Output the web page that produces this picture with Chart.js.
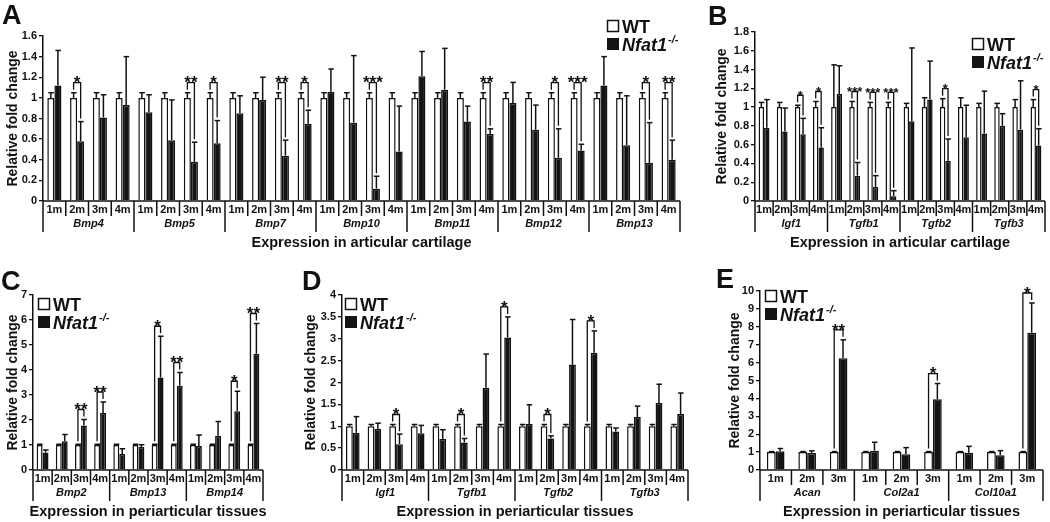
<!DOCTYPE html>
<html>
<head>
<meta charset="utf-8">
<script src="https://cdn.jsdelivr.net/npm/chart.js@4"></script>
<style>
  body { margin: 0; background: #fff; }
  #fig { position: relative; width: 1050px; height: 522px; overflow: hidden; }
  canvas { position: absolute; }
</style>
</head>
<body>
<div id="fig"></div>
<script>
const FONT = '"Liberation Sans", Arial, sans-serif';
const INK = '#111';

// ---- data ----
const months4 = ['1m', '2m', '3m', '4m'];
const months3 = ['1m', '2m', '3m'];

// A: articular cartilage, Bmp genes
const genesA = ['Bmp4', 'Bmp5', 'Bmp7', 'Bmp10', 'Bmp11', 'Bmp12', 'Bmp13'];
const ticksA = [0, 0.2, 0.4, 0.6, 0.8, 1, 1.2, 1.4, 1.6];
const wtA = [1, 1, 1, 1, 1, 1, 1, 1, 1, 1, 1, 1, 1, 1, 1, 1, 1, 1, 1, 1, 1, 1, 1, 1, 1, 1, 1, 1];
const wtSdA = [0.05, 0.05, 0.05, 0.05, 0.05, 0.05, 0.05, 0.05, 0.05, 0.05, 0.05, 0.05, 0.05, 0.05,
               0.05, 0.05, 0.05, 0.05, 0.05, 0.05, 0.05, 0.05, 0.05, 0.05, 0.05, 0.05, 0.05, 0.05];
const koA = [1.12, 0.58, 0.81, 0.93,  0.86, 0.59, 0.38, 0.56,  0.85, 0.98, 0.44, 0.75,
             1.06, 0.76, 0.12, 0.48,  1.21, 1.08, 0.77, 0.65,  0.95, 0.69, 0.42, 0.49,
             1.12, 0.54, 0.37, 0.40];
const koSdA = [0.34, 0.19, 0.22, 0.47,  0.17, 0.39, 0.19, 0.22,  0.17, 0.22, 0.15, 0.13,
               0.22, 0.65, 0.12, 0.44,  0.24, 0.40, 0.15, 0.05,  0.20, 0.24, 0.28, 0.06,
               0.28, 0.48, 0.39, 0.19];
const sigA = ['', '*', '', '',  '', '', '**', '*',  '', '', '**', '*',  '', '', '***', '',
              '', '', '', '**',  '', '', '*', '***',  '', '', '*', '**'];

// B: articular cartilage, Igf1/Tgfb
const genesB = ['Igf1', 'Tgfb1', 'Tgfb2', 'Tgfb3'];
const ticksB = [0, 0.2, 0.4, 0.6, 0.8, 1, 1.2, 1.4, 1.6, 1.8];
const wtB = [1, 1, 1, 1, 1, 1, 1, 1, 1, 1, 1, 1, 1, 1, 1, 1];
const wtSdB = [0.05, 0.05, 0.02, 0.06,  0.45, 0.06, 0.05, 0.05,  0.04, 0.10, 0.09, 0.10,  0.04, 0.04, 0.08, 0.08];
const koB = [0.78, 0.74, 0.71, 0.57,  1.14, 0.27, 0.15, 0.05,  0.85, 1.08, 0.43, 0.68,  0.72, 0.80, 0.76, 0.59];
const koSdB = [0.30, 0.25, 0.17, 0.21,  0.30, 0.14, 0.12, 0.06,  0.78, 0.41, 0.23, 0.34,  0.45, 0.13, 0.52, 0.18];
const sigB = ['', '', '*', '*',  '', '***', '***', '***',  '', '', '*', '',  '', '', '', '*'];

// C: periarticular tissues, Bmp genes
const genesC = ['Bmp2', 'Bmp13', 'Bmp14'];
const ticksC = [0, 1, 2, 3, 4, 5, 6, 7];
const wtC = [1, 1, 1, 1, 1, 1, 1, 1, 1, 1, 1, 1];
const wtSdC = [0.03, 0.03, 0.03, 0.03, 0.03, 0.03, 0.03, 0.03, 0.03, 0.03, 0.03, 0.03];
const koC = [0.70, 1.15, 1.78, 2.28,  0.64, 0.92, 3.70, 3.37,  0.96, 1.37, 2.35, 4.65];
const koSdC = [0.10, 0.27, 0.24, 0.44,  0.21, 0.09, 1.65, 0.53,  0.44, 0.57, 0.80, 1.21];
const sigC = ['', '', '**', '**',  '', '', '*', '**',  '', '', '*', '**'];

// D: periarticular tissues, Igf1/Tgfb
const genesD = ['Igf1', 'Tgfb1', 'Tgfb2', 'Tgfb3'];
const ticksD = [0, 0.5, 1, 1.5, 2, 2.5, 3, 3.5, 4];
const wtD = [1, 1, 1, 1, 1, 1, 1, 1, 1, 1, 1, 1, 1, 1, 1, 1];
const wtSdD = [0.04, 0.04, 0.04, 0.04, 0.04, 0.04, 0.04, 0.04, 0.04, 0.04, 0.04, 0.04, 0.04, 0.04, 0.04, 0.04];
const koD = [0.85, 0.94, 0.59, 0.84,  0.71, 0.63, 1.88, 3.03,  1.05, 0.72, 2.41, 2.68,  0.88, 1.21, 1.53, 1.28];
const koSdD = [0.37, 0.13, 0.23, 0.18,  0.21, 0.09, 0.77, 0.47,  0.44, 0.06, 1.03, 0.50,  0.08, 0.25, 0.43, 0.48];
const sigD = ['', '', '*', '',  '', '*', '', '*',  '', '*', '', '*',  '', '', '', ''];

// E: periarticular tissues, matrix genes
const genesE = ['Acan', 'Col2a1', 'Col10a1'];
const ticksE = [0, 1, 2, 3, 4, 5, 6, 7, 8, 9, 10];
const wtE = [1, 1, 1, 1, 1, 1, 1, 1, 1];
const wtSdE = [0.03, 0.03, 0.03, 0.03, 0.03, 0.03, 0.03, 0.03, 0.03];
const koE = [1.05, 0.95, 6.25,  1.08, 0.88, 3.95,  0.97, 0.82, 7.67];
const koSdE = [0.15, 0.12, 1.02,  0.47, 0.37, 0.88,  0.35, 0.26, 1.66];
const sigE = ['', '', '**',  '', '', '*',  '', '', '*'];

// ---- layout (page px) ----
const panels = [
  { id: 'A', genes: genesA, months: months4, ticks: ticksA, wt: wtA, wtSd: wtSdA, ko: koA, koSd: koSdA, sig: sigA,
    title: 'Expression in articular cartilage', starSize: 17,
    box: [0, 0, 700, 261], area: [43, 36, 680, 201], catPct: 0.62, letter: [2, 24], yTitleX: 13, legend: [607, 20] },
  { id: 'B', genes: genesB, months: months4, ticks: ticksB, wt: wtB, wtSd: wtSdB, ko: koB, koSd: koSdB, sig: sigB,
    title: 'Expression in articular cartilage', starSize: 13,
    box: [700, 0, 350, 261], area: [755, 32, 1045, 201], catPct: 0.6, letter: [708, 25], yTitleX: 722, legend: [972, 38] },
  { id: 'C', genes: genesC, months: months4, ticks: ticksC, wt: wtC, wtSd: wtSdC, ko: koC, koSd: koSdC, sig: sigC,
    title: 'Expression in periarticular tissues', starSize: 17,
    box: [0, 261, 300, 261], area: [33, 295, 263, 470], catPct: 0.62, letter: [1, 290], yTitleX: 13, legend: [38, 298] },
  { id: 'D', genes: genesD, months: months4, ticks: ticksD, wt: wtD, wtSd: wtSdD, ko: koD, koSd: koSdD, sig: sigD,
    title: 'Expression in periarticular tissues', starSize: 17,
    box: [300, 261, 400, 261], area: [342, 295, 688, 470], catPct: 0.63, letter: [302, 290], yTitleX: 311, legend: [345, 298] },
  { id: 'E', genes: genesE, months: months3, ticks: ticksE, wt: wtE, wtSd: wtSdE, ko: koE, koSd: koSdE, sig: sigE,
    title: 'Expression in periarticular tissues', starSize: 17,
    box: [700, 261, 350, 261], area: [760, 291, 1043, 470], catPct: 0.56, letter: [716, 288], yTitleX: 735, legend: [765, 290] }
];

function seg(ctx, x1, y1, x2, y2) {
  ctx.beginPath();
  ctx.moveTo(x1, y1);
  ctx.lineTo(x2, y2);
  ctx.stroke();
}

function extras(p) {
  return {
    id: 'extras' + p.id,
    afterDraw(chart) {
      const ctx = chart.ctx, a = chart.chartArea;
      const xs = chart.scales.x, ys = chart.scales.y;
      const ox = p.box[0], oy = p.box[1];
      const n = p.wt.length, per = p.months.length;
      const y0 = a.bottom;
      ctx.save();
      ctx.strokeStyle = INK;
      ctx.fillStyle = INK;
      ctx.lineWidth = 1.5;

      // error bars (upper only)
      const tops = [[], []];
      [[p.wt, p.wtSd], [p.ko, p.koSd]].forEach(([vals, sds], d) => {
        chart.getDatasetMeta(d).data.forEach((bar, i) => {
          const top = ys.getPixelForValue(vals[i] + sds[i]);
          tops[d][i] = top;
          seg(ctx, bar.x, bar.y, bar.x, top);
          seg(ctx, bar.x - 2.5, top, bar.x + 3, top);
        });
      });

      // significance brackets
      const wtBars = chart.getDatasetMeta(0).data, koBars = chart.getDatasetMeta(1).data;
      ctx.lineWidth = 1.3;
      ctx.font = 'bold ' + p.starSize + 'px ' + FONT;
      ctx.textAlign = 'center';
      ctx.textBaseline = 'alphabetic';
      p.sig.forEach((s, i) => {
        if (!s) return;
        const xw = wtBars[i].x, xk = koBars[i].x;
        const lvl = Math.min(tops[0][i], tops[1][i]) - 10;
        ctx.beginPath();
        ctx.moveTo(xw, tops[0][i] - 3);
        ctx.lineTo(xw, lvl);
        ctx.lineTo(xk, lvl);
        ctx.lineTo(xk, tops[1][i] - 3);
        ctx.stroke();
        ctx.fillText(s, (xw + xk) / 2, lvl + p.starSize / 3);
      });

      // x axis, month boxes, gene groups
      ctx.lineWidth = 1.5;
      seg(ctx, a.left, y0, a.right, y0);
      const edge = k => k === 0 ? a.left : k === n ? a.right
        : (xs.getPixelForValue(k - 1) + xs.getPixelForValue(k)) / 2;
      for (let k = 0; k <= n; k++) {
        const x = edge(k);
        seg(ctx, x, y0, x, y0 + (k % per === 0 ? 31 : 15));
      }
      ctx.textBaseline = 'middle';
      ctx.font = 'bold 11px ' + FONT;
      for (let i = 0; i < n; i++) ctx.fillText(p.months[i % per], xs.getPixelForValue(i), y0 + 8.5);
      ctx.font = 'italic bold 11px ' + FONT;
      p.genes.forEach((g, j) => {
        ctx.fillText(g, (edge(j * per) + edge((j + 1) * per)) / 2, y0 + 23);
      });
      ctx.font = 'bold 14.5px ' + FONT;
      ctx.fillText(p.title, (a.left + a.right) / 2, y0 + 42);

      // y title
      ctx.save();
      ctx.translate(p.yTitleX - ox, (a.top + a.bottom) / 2);
      ctx.rotate(-Math.PI / 2);
      ctx.font = 'bold 14px ' + FONT;
      ctx.fillText('Relative fold change', 0, 0);
      ctx.restore();

      // panel letter
      ctx.textAlign = 'left';
      ctx.textBaseline = 'alphabetic';
      ctx.font = 'bold 27px ' + FONT;
      ctx.fillText(p.id, p.letter[0] - ox, p.letter[1] - oy);

      // legend
      const lx = p.legend[0] - ox, ly = p.legend[1] - oy;
      ctx.fillStyle = '#fff';
      ctx.fillRect(lx, ly, 12, 12);
      ctx.strokeRect(lx + 0.5, ly + 0.5, 11, 11);
      ctx.fillStyle = '#141414';
      ctx.fillRect(lx, ly + 18, 12, 12);
      ctx.fillStyle = INK;
      ctx.font = 'bold 18px ' + FONT;
      ctx.fillText('WT', lx + 15, ly + 12.5);
      ctx.font = 'italic bold 18px ' + FONT;
      ctx.fillText('Nfat1', lx + 15, ly + 30.5);
      const w = ctx.measureText('Nfat1').width;
      ctx.font = 'italic bold 11px ' + FONT;
      ctx.fillText('-/-', lx + 16 + w, ly + 23);
      ctx.restore();
    }
  };
}

function makePanel(p) {
  const [bx, by, bw, bh] = p.box;
  const [al, at, ar, ab] = p.area;
  const cv = document.createElement('canvas');
  cv.width = bw;
  cv.height = bh;
  cv.style.left = bx + 'px';
  cv.style.top = by + 'px';
  cv.style.width = bw + 'px';
  cv.style.height = bh + 'px';
  document.getElementById('fig').appendChild(cv);

  const labels = [];
  p.genes.forEach(g => p.months.forEach(m => labels.push(g + ' ' + m)));

  new Chart(cv, {
    type: 'bar',
    data: {
      labels: labels,
      datasets: [
        { label: 'WT', data: p.wt, backgroundColor: '#fff', borderColor: INK, borderWidth: 1.5,
          categoryPercentage: p.catPct, barPercentage: 1 },
        { label: 'Nfat1-/-', data: p.ko, backgroundColor: '#141414', borderColor: INK, borderWidth: 1.5,
          categoryPercentage: p.catPct, barPercentage: 1 }
      ]
    },
    options: {
      responsive: false,
      animation: false,
      devicePixelRatio: 1,
      layout: { padding: { left: 0, top: at - by, right: bx + bw - ar, bottom: by + bh - ab } },
      plugins: { legend: { display: false }, tooltip: { enabled: false } },
      scales: {
        x: { display: false },
        y: {
          min: 0,
          max: p.ticks[p.ticks.length - 1],
          ticks: {
            stepSize: p.ticks[1] - p.ticks[0],
            color: INK,
            padding: 2,
            font: { family: FONT, size: 11, weight: 'bold' },
            callback: v => String(+v.toFixed(1))
          },
          grid: { drawOnChartArea: false, drawTicks: true, tickLength: 4, color: INK, lineWidth: 1.3 },
          border: { display: true, color: INK, width: 1.5 },
          afterFit: s => { s.width = al - bx; }
        }
      }
    },
    plugins: [extras(p)]
  });
}

panels.forEach(makePanel);
</script>
</body>
</html>
